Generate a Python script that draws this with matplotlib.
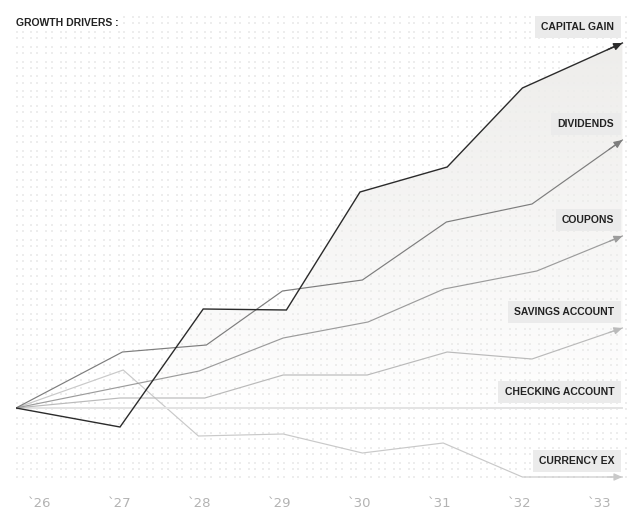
import numpy as np
import matplotlib
matplotlib.use('Agg')
import matplotlib.pyplot as plt
from matplotlib.patches import Polygon

# series (x in years, y in arbitrary growth units)
series_names = ['CAPITAL GAIN', 'DIVIDENDS', 'COUPONS', 'SAVINGS ACCOUNT', 'CHECKING ACCOUNT', 'CURRENCY EX']

x_capital = [2025.7, 2027.0, 2028.04, 2029.08, 2030.0, 2031.09, 2032.03, 2033.28]
y_capital = [0, -4.75, 24.75, 24.5, 54, 60.25, 80, 91.25]

x_dividends = [2025.7, 2027.03, 2028.08, 2029.03, 2030.03, 2031.08, 2032.15, 2033.28]
y_dividends = [0, 14, 15.75, 29.25, 32, 46.5, 51, 67]

x_coupons = [2025.7, 2027.0, 2027.99, 2029.04, 2030.1, 2031.05, 2032.21, 2033.28]
y_coupons = [0, 5.25, 9.25, 17.5, 21.5, 29.75, 34.25, 43]

x_savings = [2025.7, 2027.0, 2028.06, 2029.04, 2030.09, 2031.09, 2032.15, 2033.28]
y_savings = [0, 2.5, 2.5, 8.25, 8.25, 14, 12.25, 20]

x_checking = [2025.7, 2033.28]
y_checking = [0, 0]

x_currency = [2025.7, 2027.04, 2027.98, 2029.04, 2030.03, 2031.04, 2032.03, 2033.28]
y_currency = [0, 9.5, -7, -6.5, -11.25, -8.75, -17.25, -17.25]

years = [2026, 2027, 2028, 2029, 2030, 2031, 2032, 2033]
year_labels = ['`26', '`27', '`28', '`29', '`30', '`31', '`32', '`33']

xs = [x_capital, x_dividends, x_coupons, x_savings, x_checking, x_currency]
ys = [y_capital, y_dividends, y_coupons, y_savings, y_checking, y_currency]
colors = ['#2b2b2b', '#7d7d7d', '#9c9c9c', '#bababa', '#e3e3e3', '#c9c9c9']
widths = [1.0, 0.85, 0.85, 0.85, 1.4, 0.85]
arrows = [True, True, True, True, False, True]

plt.rcParams['font.family'] = ['Liberation Sans', 'DejaVu Sans']

W, H = 640, 528
fig = plt.figure(figsize=(W / 100, H / 100), dpi=100)

# dotted background, drawn as a pixel image (dots come in pairs)
bg = np.ones((H, W, 3))
dot_cols = []
for k in range(0, 45):
    for off in (0, 5.7):
        c = int(round(16 + 14.5 * k + off))
        if c <= 628:
            dot_cols.append(c)
dot_rows = []
for j in range(0, 35):
    for off in (0, 6.2):
        r = int(round(16 + 14.85 * j + off))
        if r <= 476:
            dot_rows.append(r)
for r in dot_rows:
    for c in dot_cols:
        bg[r:r + 2, c:c + 2] = 0.93
bgax = fig.add_axes([0, 0, 1, 1], zorder=0)
bgax.imshow(bg, extent=(0, W, H, 0), interpolation='nearest', aspect='auto')
bgax.set_xlim(0, W)
bgax.set_ylim(H, 0)
bgax.axis('off')

# main axes
left, right, top, bottom = 16, 624, 16, 480
ax = fig.add_axes([left / W, (H - bottom) / H, (right - left) / W, (bottom - top) / H], zorder=1)
ax.patch.set_alpha(0)
ax.set_xlim(2025.7, 2033.3)
ax.set_ylim(-18, 98)
for s in ax.spines.values():
    s.set_visible(False)
ax.tick_params(length=0, pad=12)
ax.set_yticks([])
ax.set_xticks(years)
ax.set_xticklabels(year_labels, family='DejaVu Sans', fontsize=9.5, color='#b3b3b3')

# gradient fill under capital gain
ny = 300
vals = np.linspace(98, -18, ny)
alpha = np.clip(vals / 91.25, 0, 1) ** 0.9
img = np.zeros((ny, 2, 4))
img[..., 0] = 0.937
img[..., 1] = 0.933
img[..., 2] = 0.925
img[..., 3] = alpha[:, None]
poly = Polygon(list(zip(x_capital, y_capital)) + [(x_capital[-1], 0), (x_capital[0], 0)],
               closed=True, facecolor='none', edgecolor='none')
ax.add_patch(poly)
im = ax.imshow(img, extent=(2025.7, 2033.3, -18, 98), aspect='auto', zorder=1, interpolation='bilinear')
im.set_clip_path(poly)

# lines, arrows, labels (drawn back to front)
for i in reversed(range(len(series_names))):
    x, y = xs[i], ys[i]
    ax.plot(x, y, color=colors[i], lw=widths[i], zorder=3 + (6 - i), solid_joinstyle='miter')
    if arrows[i]:
        fx = x[-1] - 0.15 * (x[-1] - x[-2])
        fy = y[-1] - 0.15 * (y[-1] - y[-2])
        ax.annotate('', xy=(x[-1], y[-1]), xytext=(fx, fy),
                    arrowprops=dict(arrowstyle='-|>,head_length=0.5,head_width=0.22',
                                    color=colors[i], lw=widths[i], shrinkA=0, shrinkB=0),
                    zorder=3 + (6 - i))
    ax.annotate(series_names[i], xy=(1, y[-1]), xycoords=('axes fraction', 'data'),
                xytext=(-7, 11.5), textcoords='offset points', ha='right', va='center',
                fontsize=7.5, fontweight='bold', color='#222222', zorder=20,
                bbox=dict(boxstyle='square,pad=0.6', fc='#ebebeb', ec='none'))

fig.text(16 / W, 1 - 23 / H, 'GROWTH DRIVERS :', ha='left', va='center',
         fontsize=7.5, fontweight='bold', color='#222222', zorder=5,
         bbox=dict(boxstyle='square,pad=0.3', fc='white', ec='none'))

fig.savefig('out.png', dpi=100)
